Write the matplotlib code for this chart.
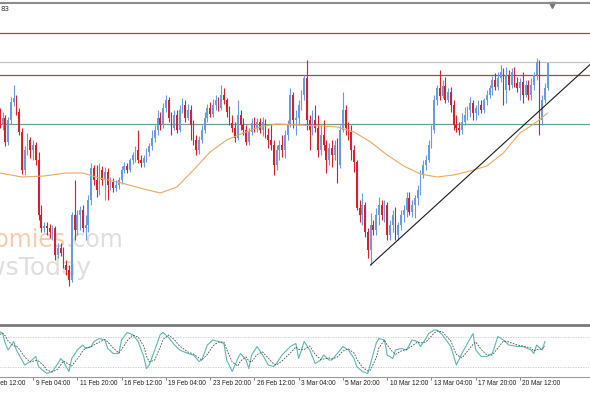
import matplotlib.pyplot as plt
import numpy as np

# H4 candles, price in chart units (open of each bar = previous close)
first_open = 215
closes = [205, 212, 188, 210, 228, 232, 218, 198, 160, 180,
          190, 180, 185, 170, 115, 102, 104, 102, 98, 102,
          75, 82, 77, 65, 60, 50, 115, 100, 115, 120,
          102, 105, 130, 162, 150, 140, 160, 150, 158, 145,
          148, 142, 145, 150, 160, 164, 160, 170, 175, 180,
          170, 167, 172, 178, 184, 192, 200, 212, 205, 222,
          230, 212, 202, 215, 200, 220, 225, 212, 220, 205,
          190, 180, 190, 200, 212, 222, 216, 225, 230, 222,
          235, 230, 218, 207, 202, 192, 215, 205, 200, 188,
          198, 207, 202, 208, 200, 208, 195, 190, 185, 165,
          180, 185, 180, 195, 205, 235, 210, 212, 225, 235,
          252, 210, 200, 210, 202, 180, 195, 185, 170, 182,
          175, 185, 165, 200, 220, 202, 198, 180, 168, 122,
          115, 125, 98, 80, 105, 100, 115, 125, 115, 125,
          95, 105, 115, 95, 105, 115, 120, 132, 118, 125,
          132, 140, 155, 165, 170, 185, 200, 230, 242, 234,
          244, 230, 238, 225, 205, 202, 200, 208, 215, 220,
          227, 217, 222, 225, 220, 230, 235, 242, 250, 243,
          252, 258, 240, 255, 245, 258, 247, 242, 248, 235,
          245, 235, 245, 255, 268, 210, 230, 242, 267]
highs = [222, 218, 215, 213, 233, 245, 235, 222, 202, 184,
         197, 193, 190, 188, 178, 125, 108, 108, 106, 105,
         104, 87, 87, 83, 70, 65, 118, 150, 120, 124,
         125, 115, 135, 167, 165, 165, 167, 164, 163, 162,
         153, 152, 150, 153, 164, 168, 167, 172, 178, 184,
         200, 175, 175, 182, 187, 200, 205, 220, 218, 227,
         235, 233, 218, 220, 220, 225, 232, 230, 226, 225,
         210, 195, 194, 205, 218, 226, 228, 231, 235, 233,
         245, 242, 232, 224, 215, 208, 230, 220, 212, 205,
         202, 212, 213, 212, 212, 213, 211, 202, 206, 190,
         185, 190, 195, 200, 210, 242, 238, 220, 230, 240,
         255, 270, 215, 220, 225, 215, 205, 210, 190, 187,
         190, 190, 192, 205, 238, 225, 208, 205, 185, 170,
         130, 137, 128, 102, 117, 110, 122, 133, 130, 130,
         128, 110, 120, 123, 108, 120, 125, 138, 138, 130,
         135, 145, 160, 170, 175, 190, 205, 235, 245, 260,
         250, 253, 242, 243, 230, 215, 208, 217, 223, 224,
         233, 230, 225, 230, 230, 232, 240, 245, 254, 257,
         258, 265, 262, 263, 260, 262, 263, 253, 252, 258,
         250, 250, 252, 258, 272, 270, 235, 247, 268]
lows = [202, 200, 184, 185, 206, 224, 215, 195, 156, 155,
        175, 172, 170, 165, 110, 98, 98, 95, 92, 90,
        70, 72, 74, 62, 55, 44, 48, 90, 95, 100,
        98, 90, 98, 125, 145, 133, 135, 145, 130, 130,
        140, 138, 139, 141, 146, 157, 157, 158, 166, 168,
        167, 163, 163, 168, 174, 180, 188, 195, 200, 202,
        218, 208, 195, 200, 197, 198, 217, 208, 210, 190,
        185, 175, 176, 187, 197, 208, 213, 213, 220, 219,
        220, 226, 213, 205, 198, 188, 190, 200, 195, 185,
        185, 195, 198, 198, 197, 194, 192, 182, 180, 155,
        160, 170, 173, 172, 190, 203, 202, 195, 205, 220,
        230, 200, 180, 195, 198, 173, 175, 180, 157, 165,
        163, 170, 147, 162, 198, 195, 190, 170, 158, 120,
        108, 105, 93, 72, 65, 95, 95, 105, 110, 108,
        90, 90, 98, 90, 90, 100, 108, 113, 115, 113,
        112, 125, 135, 152, 160, 168, 182, 197, 225, 230,
        232, 227, 228, 218, 200, 198, 195, 196, 205, 210,
        213, 210, 210, 215, 217, 217, 225, 232, 235, 240,
        240, 248, 225, 227, 240, 242, 243, 238, 230, 227,
        233, 230, 230, 240, 250, 195, 205, 227, 240]

# horizontal levels
levels = [297, 268, 255, 206]
level_colors = ['#c8354e', '#c4c4c4', '#c8354e', '#6f9f8f']

# moving average read at a few bars
ma_idx = [0, 8, 16, 24, 30, 36, 44, 52, 58, 64, 70, 76, 82, 88, 94, 100,
          108, 116, 122, 128, 134, 140, 146, 152, 158, 164, 170, 176, 182,
          188, 194, 198]
ma_vals = [157, 153, 154, 157, 157, 152, 147, 141, 137, 143, 160, 178, 190,
           197, 203, 206, 205, 204, 203, 198, 188, 175, 164, 156, 153, 155,
           159, 164, 177, 197, 208, 217]

# rising trend line (two anchor points, drawn as a ray)
trend_idx = [134, 190]
trend_vals = [65, 206.5]

# stochastic oscillator
stoch_idx = [0, 1, 2, 3, 5, 6, 7, 9, 11, 13, 14, 16, 17, 19, 21, 22, 23, 25,
             26, 28, 30, 31, 33, 34, 36, 38, 39, 41, 43, 44, 46, 48, 50, 52,
             53, 54, 56, 58, 59, 61, 63, 65, 68, 70, 72, 73, 75, 77, 79, 81,
             82, 84, 86, 87, 89, 90, 91, 93, 95, 97, 99, 100, 102, 105, 107,
             108, 110, 112, 114, 116, 117, 119, 120, 122, 124, 126, 128, 129,
             131, 133, 134, 136, 137, 139, 140, 142, 143, 145, 147, 149, 151,
             152, 154, 155, 157, 158, 160, 163, 165, 167, 171, 172, 174, 176,
             178, 180, 182, 184, 187, 189, 192, 193, 194, 196, 197]
stoch_main = [91, 87, 67, 54, 71, 54, 44, 24, 31, 41, 21, 11, 7, 11, 27, 37,
              31, 11, 37, 54, 64, 57, 61, 71, 77, 74, 57, 47, 47, 74, 89, 85,
              71, 41, 17, 24, 54, 85, 89, 79, 65, 54, 47, 44, 31, 34, 64, 74,
              71, 67, 34, 11, 37, 47, 34, 17, 44, 61, 44, 24, 21, 27, 44, 61,
              67, 37, 71, 54, 27, 34, 44, 34, 34, 47, 61, 54, 37, 21, 11, 7,
              27, 67, 77, 74, 44, 37, 54, 57, 54, 74, 71, 61, 77, 87, 94, 94,
              84, 61, 24, 47, 87, 54, 41, 41, 47, 81, 74, 64, 61, 61, 54, 47,
              64, 54, 71]
stoch_signal = [85, 88, 82, 72, 62, 62, 56, 40, 30, 33, 32, 22, 14, 10, 16,
                24, 32, 25, 22, 36, 52, 58, 60, 64, 70, 75, 70, 58, 48, 55,
                72, 84, 80, 62, 42, 30, 34, 60, 75, 84, 75, 62, 50, 46, 38,
                34, 45, 62, 70, 70, 55, 30, 22, 32, 40, 32, 30, 45, 50, 38,
                26, 24, 32, 48, 60, 55, 55, 62, 45, 35, 36, 38, 36, 40, 52,
                56, 48, 36, 20, 12, 14, 38, 58, 74, 64, 50, 45, 52, 55, 62,
                70, 68, 70, 76, 88, 92, 90, 72, 45, 38, 65, 70, 55, 44, 44,
                58, 72, 70, 64, 62, 58, 52, 55, 56, 62]

tick_idx = [-4, 12, 28, 44, 60, 76, 92, 108, 124, 140, 156, 172, 188]
tick_labels = ['6 Feb 12:00', '9 Feb 04:00', '11 Feb 20:00', '16 Feb 12:00',
               '19 Feb 04:00', '23 Feb 20:00', '26 Feb 12:00', '3 Mar 04:00',
               '5 Mar 20:00', '10 Mar 12:00', '13 Mar 04:00', '17 Mar 20:00',
               '20 Mar 12:00']

bull = '#6a9be2'
bear = '#d8202a'
x_range = (0.07, 213.3)

fig = plt.figure(figsize=(5.9, 3.93), dpi=100)
ax = fig.add_axes([0, 69 / 393, 1, 321 / 393])
osc = fig.add_axes([0, 16 / 393, 1, 52 / 393])

# candles
x = np.arange(len(closes))
c = np.array(closes, dtype=float)
o = np.array([first_open] + closes[:-1], dtype=float)
h = np.maximum(np.array(highs, dtype=float), np.maximum(o, c))
l = np.minimum(np.array(lows, dtype=float), np.minimum(o, c))
cols = np.where(c >= o, bull, bear)
ax.vlines(x, l, h, colors=cols, linewidth=0.8, zorder=3)
ax.bar(x, np.maximum(np.abs(c - o), 0.8), bottom=np.minimum(o, c),
       width=0.62, color=cols, linewidth=0, zorder=4)

for lv, lc in zip(levels, level_colors):
    ax.axhline(lv, color=lc, linewidth=0.9, zorder=2)

ax.plot(ma_idx, ma_vals, color='#e9a964', linewidth=0.8, zorder=5)

slope = (trend_vals[1] - trend_vals[0]) / (trend_idx[1] - trend_idx[0])
ax.plot([trend_idx[0], x_range[1]],
        [trend_vals[0], trend_vals[0] + slope * (x_range[1] - trend_idx[0])],
        color='#1a1a1a', linewidth=0.8, zorder=6)

# watermark behind the candles
ax.text(66 / 590, 1 - 240 / 393, 'Economies', transform=fig.transFigure,
        ha='right', va='center', fontsize=17, color='#f7ccae', zorder=1)
ax.text(66 / 590, 1 - 240 / 393, '.com', transform=fig.transFigure,
        ha='left', va='center', fontsize=17, color='#dedede', zorder=1)
ax.text(91 / 590, 1 - 268 / 393, 'NewsToday', transform=fig.transFigure,
        ha='right', va='center', fontsize=18, color='#dedede', zorder=1)

ax.text(0.5 / 590, 1 - 9 / 393, '83', transform=fig.transFigure,
        ha='left', va='center', fontsize=5, color='#303030')
ax.plot([552 / 590], [1 - 5 / 393], transform=fig.transFigure, marker='v',
        markersize=4, color='#7a7a7a', clip_on=False)

ax.set_xlim(*x_range)
ax.set_ylim(6, 327)
ax.set_xticks([])
ax.set_yticks([])
for s in ['left', 'right', 'bottom']:
    ax.spines[s].set_visible(False)
ax.spines['top'].set_color('#8c8c8c')
ax.spines['top'].set_linewidth(1.5)

# stochastic panel
for lv in [80, 20]:
    osc.axhline(lv, color='#c8c8c8', linewidth=0.6, linestyle=(0, (1.5, 1.5)))
osc.plot(stoch_idx, stoch_main, color='#5cb8b2', linewidth=0.8)
osc.plot(stoch_idx, stoch_signal, color='#4a4a4a', linewidth=0.6,
         linestyle=(0, (2, 1.5)))
osc.set_xlim(*x_range)
osc.set_ylim(0, 104)
osc.set_yticks([])
osc.set_xticks(tick_idx[1:])
osc.tick_params(axis='x', length=2, width=0.6, color='#707070',
                labelbottom=False)
for s in ['left', 'right']:
    osc.spines[s].set_visible(False)
osc.spines['top'].set_color('#7a7a7a')
osc.spines['top'].set_linewidth(2)
osc.spines['bottom'].set_color('#9a9a9a')
osc.spines['bottom'].set_linewidth(0.8)

for t, lab in zip(tick_idx, tick_labels):
    osc.text(t + 0.9, -0.12, lab, transform=osc.get_xaxis_transform(),
             ha='left', va='center', fontsize=4.7, family='Liberation Sans',
             color='#202020', clip_on=False)

fig.savefig('out.png', dpi=100)
